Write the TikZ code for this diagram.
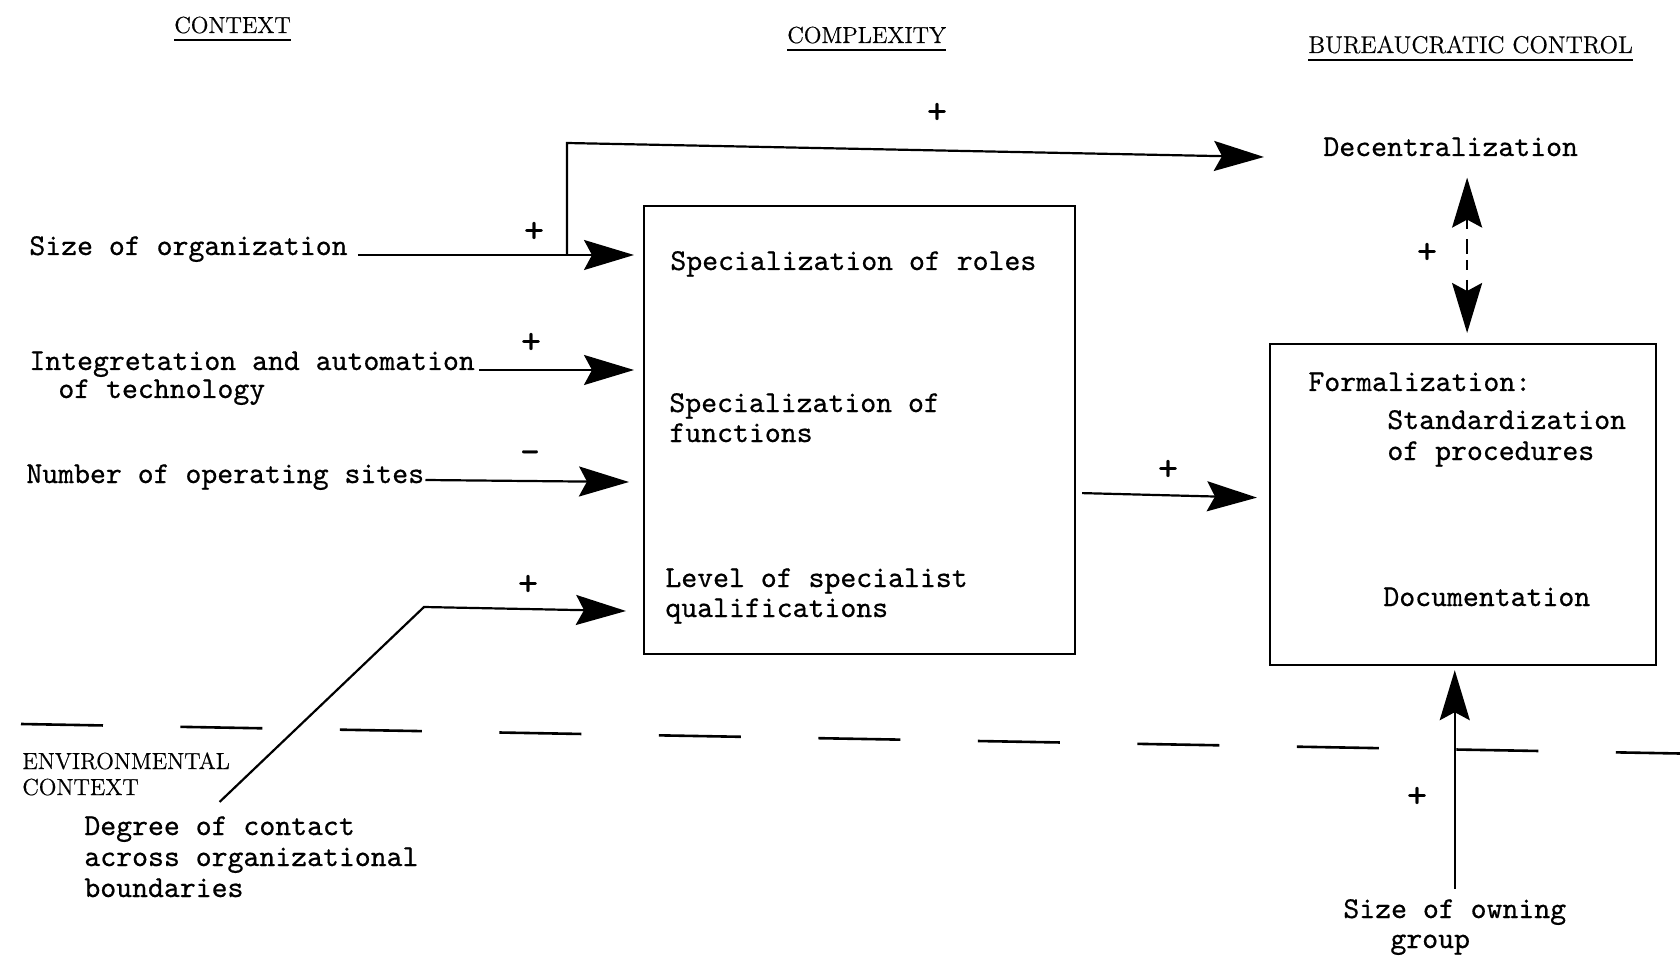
\documentclass[tikz,border=0pt]{standalone}
\usepackage{fontspec}
\usetikzlibrary{arrows.meta}
\newfontfamily\twfont{lmmono10-regular.otf}[FakeBold=0.6]
\newfontfamily\hdfont{lmroman12-regular.otf}[FakeBold=0.5]
\begin{document}
\begin{tikzpicture}[x=0.5pt,y=-0.5pt,
  tw/.style={inner sep=0pt, anchor=base west, font=\twfont\fontsize{15.15}{15.5}\selectfont},
  head/.style={inner sep=0pt, anchor=base west, font=\hdfont\fontsize{11.6}{13}\selectfont},
  sign/.style={inner sep=0pt, font=\twfont\fontsize{19}{19}\selectfont},
  blockbox/.style={draw, line width=1.1pt, inner sep=0pt, anchor=north west},
  uline/.style={line width=1.2pt},
  arr/.style={line width=1.1pt, -{Stealth[length=25pt,width=15pt,inset=4pt]}},
  arrboth/.style={line width=1.1pt, {Stealth[length=25pt,width=15pt,inset=4pt]}-{Stealth[length=25pt,width=15pt,inset=4pt]}},
]
\useasboundingbox (0,0) rectangle (1680,962);
\fill[white] (0,0) rectangle (1680,962);

% column headings
\node[head] (ctx)  at (174,33)  {CONTEXT};
\node[head] (cplx) at (787,43)  {COMPLEXITY};
\node[head, font=\hdfont\fontsize{12.1}{13}\selectfont] (bur) at (1308,53) {BUREAUCRATIC CONTROL};
\foreach \h in {ctx,cplx,bur}
  \draw[uline] ([yshift=-3.5pt]\h.base west) -- ([yshift=-3.5pt]\h.base east);

% context variables
\node[tw] (size)   at (29,255)  {Size of organization};
\node[tw] (integ1) at (29,370)  {Integretation and automation};
\node[tw] (integ2) at (58,398)  {of technology};
\node[tw] (sites)  at (26,483)  {Number of operating sites};

% environmental context
\node[head] (env1) at (22,769) {ENVIRONMENTAL};
\node[head] (env2) at (22,795) {CONTEXT};
\node[tw] (deg1) at (84,835) {Degree of contact};
\node[tw] (deg2) at (84,866) {across organizational};
\node[tw] (deg3) at (84,897) {boundaries};

% complexity block
\node[blockbox, minimum width=215.5pt, minimum height=224pt] (cx) at (643,205) {};
\node[tw] (roles) at (670,270) {Specialization of roles};
\node[tw] (func1) at (669,412) {Specialization of};
\node[tw] (func2) at (669,442) {functions};
\node[tw] (lev1)  at (665,587) {Level of specialist};
\node[tw] (lev2)  at (665,617) {qualifications};

% bureaucratic control
\node[tw] (dec) at (1323,156) {Decentralization};
\node[blockbox, minimum width=193pt, minimum height=160.5pt] (fm) at (1269,343) {};
\node[tw] (form) at (1308,391) {Formalization:};
\node[tw] (std1) at (1387,429) {Standardization};
\node[tw] (std2) at (1387,460) {of procedures};
\node[tw] (doc)  at (1383,606) {Documentation};

% owning group
\node[tw] (own1) at (1343,918) {Size of owning};
\node[tw] (own2) at (1390,948) {group};

% boundary of the environmental context
\draw[line width=1.3pt, dash pattern=on 41pt off 38.75pt] (21,724) -- (1680,753.5);

% connectors
\coordinate (tSize) at (634,255);
\draw[arr] ([xshift=5pt]size.base east) -- (tSize);

\coordinate (jn)   at (567,255);
\coordinate (bend) at (567,143);
\coordinate (tDec) at (1264,157);
\draw[arr] (jn) -- (bend) -- (tDec);

\coordinate (tInt) at (634,370);
\draw[arr] ([xshift=2pt]integ1.base east) -- (tInt);

\coordinate (tSites) at (629,482);
\draw[arr] ([xshift=0.5pt,yshift=1.5pt]sites.base east) -- (tSites);

\coordinate (lbend) at (424,607);
\coordinate (tLev)  at (626,611);
\draw[arr] ([yshift=7pt]deg1.north) -- (lbend) -- (tLev);

\draw[arr] ([xshift=3pt,yshift=-31.5pt]cx.east) -- ([xshift=-6pt,yshift=3.5pt]fm.west);

\path (fm.north) ++(4,-10) coordinate (dBot);
\path (dBot |- dec.south) ++(0,21) coordinate (dTop);
\draw[arrboth, dash pattern=on 5pt off 5pt on 7.5pt off 3pt] (dTop) -- (dBot);

\path (own1.north |- fm.south) ++(0,4) coordinate (tOwn);
\draw[arr] ([yshift=5pt]own1.north) -- (tOwn);

% signs of the relations
\node[sign] (p1) at (937,113)  {+};
\node[sign] (p2) at (534,232)  {+};
\node[sign] (p3) at (531,343)  {+};
\node[sign] (m1) at (530,457)  {-};
\node[sign] (p4) at (528,585)  {+};
\node[sign] (p5) at (1168,470) {+};
\node[sign] (p6) at (1427,253) {+};
\node[sign] (p7) at (1417,797) {+};
\end{tikzpicture}
\end{document}
